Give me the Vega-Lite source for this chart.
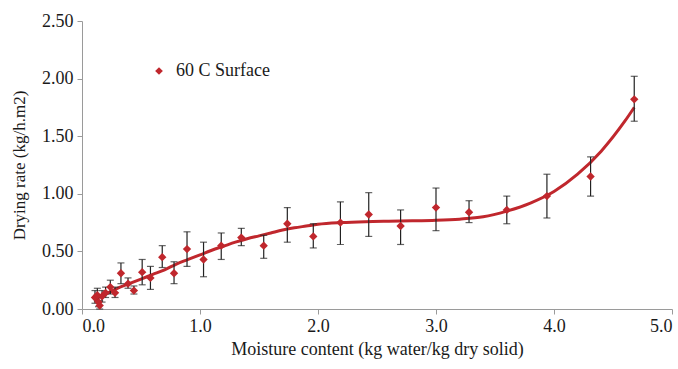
{
  "$schema": "https://vega.github.io/schema/vega-lite/v6.json",
  "autosize": {"type": "none"},
  "padding": {"left": 82, "top": 21, "right": 6, "bottom": 60},
  "width": 590,
  "height": 288,
  "background": "white",
  "config": {
    "view": {"stroke": null},
    "font": "Liberation Serif",
    "axis": {
      "grid": false,
      "domainColor": "#9a9a9a",
      "tickColor": "#9a9a9a",
      "labelFont": "Liberation Serif",
      "titleFont": "Liberation Serif",
      "labelFontSize": 18,
      "titleFontSize": 18,
      "labelColor": "#1a1a1a",
      "titleColor": "#1a1a1a",
      "titleFontWeight": "normal",
      "tickSize": 5
    },
    "legend": {
      "labelFont": "Liberation Serif",
      "labelFontSize": 18,
      "labelColor": "#1a1a1a"
    }
  },
  "datasets": {
    "points": [
      {"x": 0.11, "y": 0.10, "lo": 0.05, "hi": 0.16, "series": "60 C Surface"},
      {"x": 0.13, "y": 0.12, "lo": 0.07, "hi": 0.18, "series": "60 C Surface"},
      {"x": 0.14, "y": 0.06, "lo": 0.02, "hi": 0.10, "series": "60 C Surface"},
      {"x": 0.15, "y": 0.03, "lo": 0.00, "hi": 0.07, "series": "60 C Surface"},
      {"x": 0.17, "y": 0.11, "lo": 0.06, "hi": 0.16, "series": "60 C Surface"},
      {"x": 0.20, "y": 0.14, "lo": 0.10, "hi": 0.19, "series": "60 C Surface"},
      {"x": 0.24, "y": 0.19, "lo": 0.13, "hi": 0.25, "series": "60 C Surface"},
      {"x": 0.28, "y": 0.14, "lo": 0.10, "hi": 0.19, "series": "60 C Surface"},
      {"x": 0.33, "y": 0.31, "lo": 0.22, "hi": 0.40, "series": "60 C Surface"},
      {"x": 0.39, "y": 0.22, "lo": 0.18, "hi": 0.27, "series": "60 C Surface"},
      {"x": 0.44, "y": 0.16, "lo": 0.13, "hi": 0.20, "series": "60 C Surface"},
      {"x": 0.51, "y": 0.32, "lo": 0.21, "hi": 0.43, "series": "60 C Surface"},
      {"x": 0.58, "y": 0.27, "lo": 0.17, "hi": 0.37, "series": "60 C Surface"},
      {"x": 0.68, "y": 0.45, "lo": 0.36, "hi": 0.55, "series": "60 C Surface"},
      {"x": 0.78, "y": 0.31, "lo": 0.22, "hi": 0.41, "series": "60 C Surface"},
      {"x": 0.89, "y": 0.52, "lo": 0.37, "hi": 0.67, "series": "60 C Surface"},
      {"x": 1.03, "y": 0.43, "lo": 0.28, "hi": 0.58, "series": "60 C Surface"},
      {"x": 1.18, "y": 0.55, "lo": 0.43, "hi": 0.66, "series": "60 C Surface"},
      {"x": 1.35, "y": 0.62, "lo": 0.55, "hi": 0.70, "series": "60 C Surface"},
      {"x": 1.54, "y": 0.55, "lo": 0.44, "hi": 0.64, "series": "60 C Surface"},
      {"x": 1.74, "y": 0.74, "lo": 0.58, "hi": 0.88, "series": "60 C Surface"},
      {"x": 1.96, "y": 0.63, "lo": 0.53, "hi": 0.74, "series": "60 C Surface"},
      {"x": 2.19, "y": 0.75, "lo": 0.56, "hi": 0.93, "series": "60 C Surface"},
      {"x": 2.43, "y": 0.82, "lo": 0.63, "hi": 1.01, "series": "60 C Surface"},
      {"x": 2.70, "y": 0.72, "lo": 0.56, "hi": 0.86, "series": "60 C Surface"},
      {"x": 3.00, "y": 0.88, "lo": 0.68, "hi": 1.05, "series": "60 C Surface"},
      {"x": 3.28, "y": 0.84, "lo": 0.75, "hi": 0.94, "series": "60 C Surface"},
      {"x": 3.60, "y": 0.86, "lo": 0.74, "hi": 0.98, "series": "60 C Surface"},
      {"x": 3.94, "y": 0.98, "lo": 0.79, "hi": 1.17, "series": "60 C Surface"},
      {"x": 4.31, "y": 1.15, "lo": 0.98, "hi": 1.32, "series": "60 C Surface"},
      {"x": 4.68, "y": 1.82, "lo": 1.63, "hi": 2.02, "series": "60 C Surface"}
    ],
    "trend": [
      {"x": 0.10, "y": 0.08},
      {"x": 0.20, "y": 0.13},
      {"x": 0.30, "y": 0.18},
      {"x": 0.40, "y": 0.22},
      {"x": 0.50, "y": 0.26},
      {"x": 0.60, "y": 0.30},
      {"x": 0.70, "y": 0.34},
      {"x": 0.80, "y": 0.39},
      {"x": 0.90, "y": 0.43},
      {"x": 1.00, "y": 0.47},
      {"x": 1.10, "y": 0.51},
      {"x": 1.20, "y": 0.545},
      {"x": 1.30, "y": 0.58},
      {"x": 1.40, "y": 0.61},
      {"x": 1.50, "y": 0.635},
      {"x": 1.60, "y": 0.66},
      {"x": 1.70, "y": 0.685},
      {"x": 1.80, "y": 0.705},
      {"x": 1.90, "y": 0.72},
      {"x": 2.00, "y": 0.735},
      {"x": 2.20, "y": 0.75},
      {"x": 2.40, "y": 0.758},
      {"x": 2.60, "y": 0.762},
      {"x": 2.80, "y": 0.765},
      {"x": 3.00, "y": 0.77},
      {"x": 3.20, "y": 0.78},
      {"x": 3.40, "y": 0.80},
      {"x": 3.60, "y": 0.85},
      {"x": 3.80, "y": 0.92},
      {"x": 4.00, "y": 1.02},
      {"x": 4.20, "y": 1.17},
      {"x": 4.40, "y": 1.37},
      {"x": 4.60, "y": 1.63},
      {"x": 4.68, "y": 1.75}
    ]
  },
  "encoding": {
    "x": {
      "field": "x", "type": "quantitative",
      "scale": {"domain": [0, 5], "nice": false, "zero": false},
      "axis": {"values": [0, 1, 2, 3, 4, 5], "format": ".1f", "title": "Moisture content (kg water/kg dry solid)", "labelPadding": 3, "titlePadding": 5}
    },
    "y": {
      "field": "y", "type": "quantitative",
      "scale": {"domain": [0, 2.5], "nice": false},
      "axis": {"values": [0, 0.5, 1, 1.5, 2, 2.5], "format": ".2f", "title": "Drying rate (kg/h.m2)", "titleFontSize": 17, "labelPadding": 4, "titlePadding": 13}
    }
  },
  "layer": [
    {
      "data": {"name": "trend"},
      "mark": {"type": "line", "color": "#C0272D", "strokeWidth": 3, "interpolate": "monotone"},
      "encoding": {}
    },
    {
      "data": {"name": "points"},
      "mark": {"type": "rule", "color": "#222222", "strokeWidth": 1.2},
      "encoding": {"y": {"field": "lo", "type": "quantitative"}, "y2": {"field": "hi"}}
    },
    {
      "data": {"name": "points"},
      "mark": {"type": "tick", "orient": "horizontal", "color": "#222222", "size": 7, "thickness": 1.2},
      "encoding": {"y": {"field": "lo", "type": "quantitative"}}
    },
    {
      "data": {"name": "points"},
      "mark": {"type": "tick", "orient": "horizontal", "color": "#222222", "size": 7, "thickness": 1.2},
      "encoding": {"y": {"field": "hi", "type": "quantitative"}}
    },
    {
      "data": {"name": "points"},
      "mark": {"type": "point", "filled": true, "opacity": 1, "size": 70},
      "encoding": {
        "shape": {"field": "series", "type": "nominal", "scale": {"range": ["diamond"]}, "legend": null},
        "color": {
          "field": "series", "type": "nominal",
          "scale": {"range": ["#C0272D"]},
          "legend": {"title": null, "orient": "none", "legendX": 68, "legendY": 41, "symbolType": "diamond", "symbolSize": 60, "labelOffset": 8}
        }
      }
    }
  ]
}
